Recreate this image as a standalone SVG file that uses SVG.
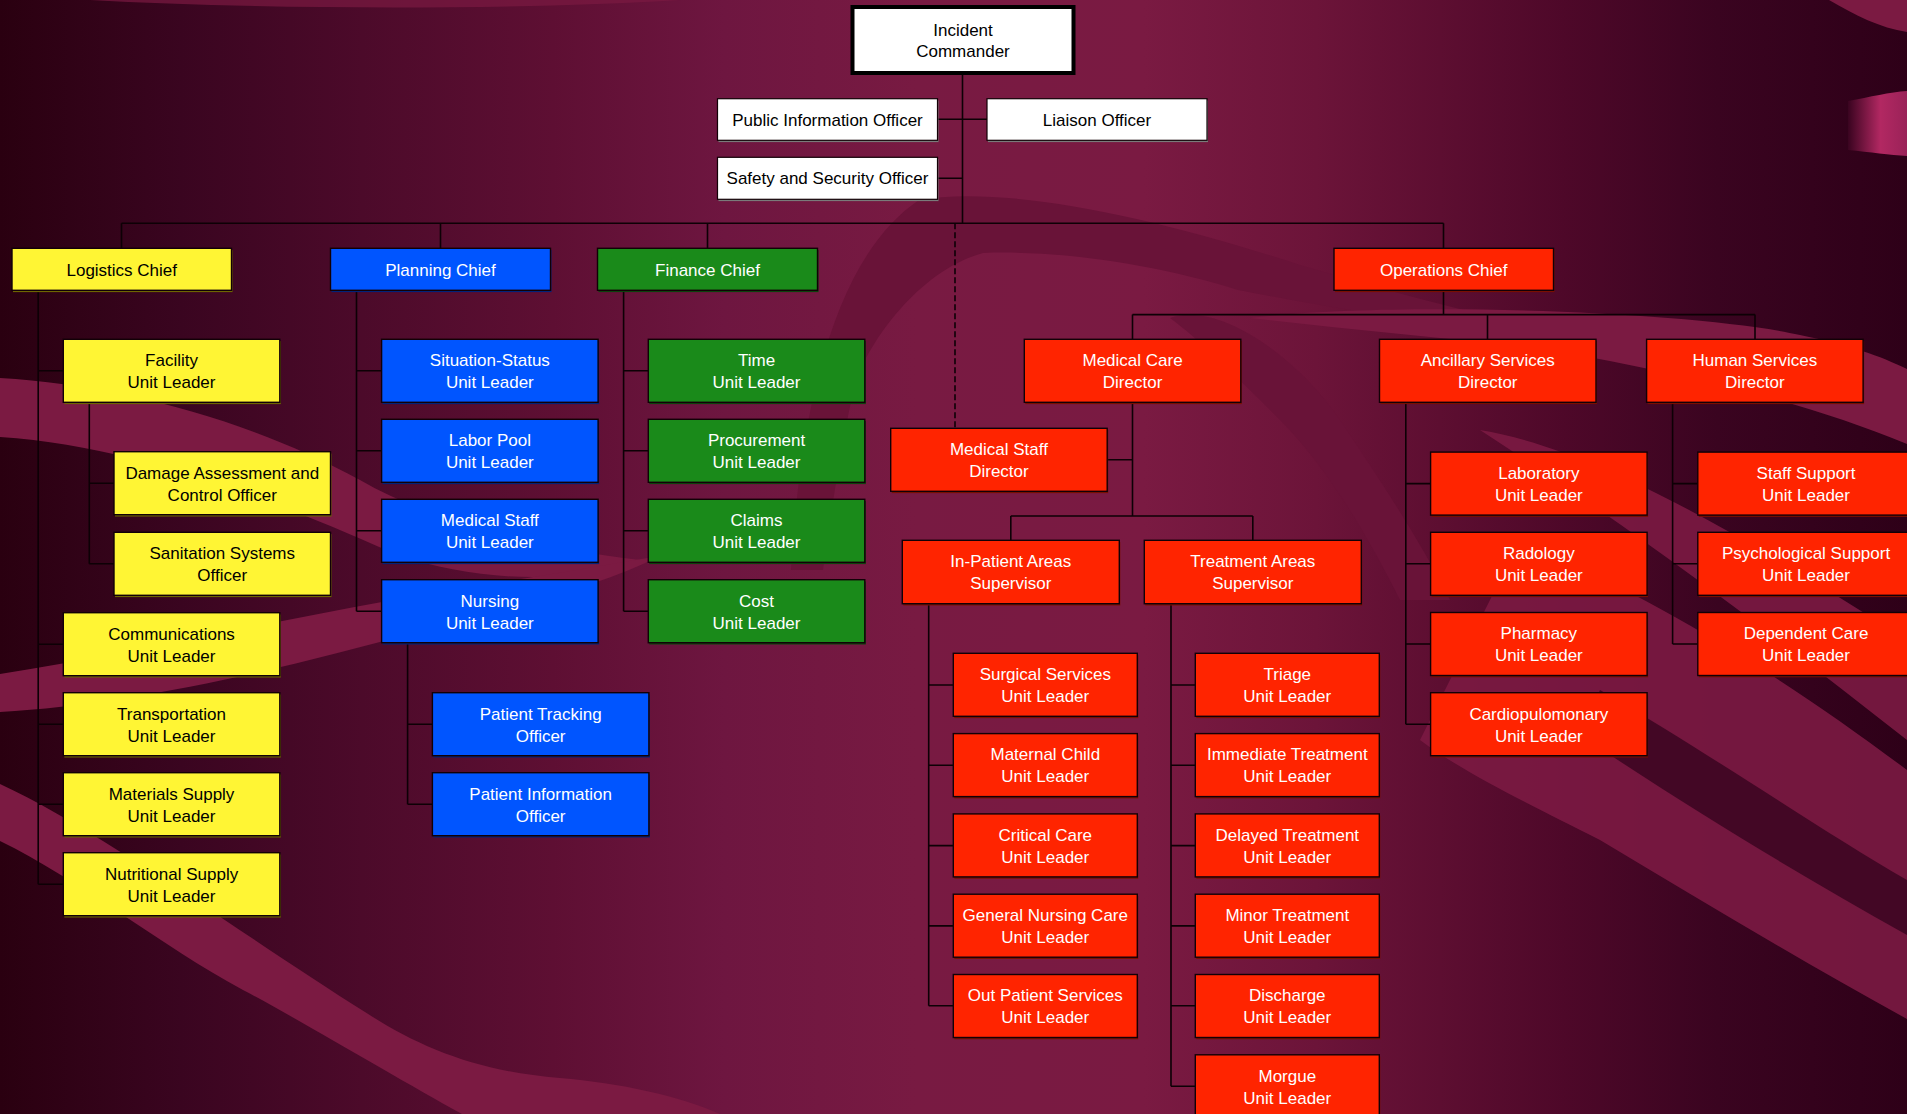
<svg xmlns="http://www.w3.org/2000/svg" width="1907" height="1114" viewBox="0 0 1907 1114">
<style>
.t{font-family:"Liberation Sans",Arial,sans-serif;font-size:17px;text-anchor:middle}
.dk{fill:#000}
.lt{fill:#fff}
.by{fill:#fff534;stroke:#120006;stroke-width:1.4}
.bb{fill:#0055ff;stroke:#120006;stroke-width:1.4}
.bg{fill:#1a8a1a;stroke:#120006;stroke-width:1.4}
.br{fill:#ff2400;stroke:#120006;stroke-width:1.4}
.bw{fill:#ffffff;stroke:#120006;stroke-width:1.2}
.sy{fill:#6e6600}
.sb{fill:#00237a}
.sg{fill:#0b420b}
.sr{fill:#7a0f00}
.sw{fill:#7a7a7a}
.c{fill:none;stroke:#0d0005;stroke-width:1.6}
.band{fill:#7b1a42}
.dband{fill:#691338}
</style>
<defs>
<linearGradient id="bgGrad" x1="0" y1="0" x2="1" y2="0">
<stop offset="0" stop-color="#2a0010"/>
<stop offset="0.095" stop-color="#3a0520"/>
<stop offset="0.19" stop-color="#4c0a2a"/>
<stop offset="0.29" stop-color="#5e0f33"/>
<stop offset="0.38" stop-color="#6e1640"/>
<stop offset="0.48" stop-color="#781a42"/>
<stop offset="0.6" stop-color="#7a1a42"/>
<stop offset="0.69" stop-color="#6c1439"/>
<stop offset="0.82" stop-color="#4e0829"/>
<stop offset="0.9" stop-color="#3a0420"/>
<stop offset="1" stop-color="#2e0018"/>
</linearGradient>
<linearGradient id="bannerGrad" x1="1848" y1="0" x2="1907" y2="0" gradientUnits="userSpaceOnUse">
<stop offset="0" stop-color="#3a0420"/>
<stop offset="0.55" stop-color="#b22862"/>
<stop offset="1" stop-color="#9a2258"/>
</linearGradient>
</defs>

<g id="background">
<rect x="0" y="0" width="1907" height="1114" fill="url(#bgGrad)"/>
<path class="band" d="M90,0 C250,9 500,11 680,0 Z" opacity="0.7"/>
<path class="band" d="M0,378 C120,385 250,420 360,480 C430,520 520,545 640,560 C560,588 470,578 400,556 C300,512 150,447 0,437 Z"/>
<path class="band" d="M0,674 C150,650 300,615 450,590 C530,578 600,566 660,556 C600,586 520,606 420,631 C280,670 130,705 0,712 Z"/>
<path class="band" d="M0,784 C100,830 250,940 365,1012 C420,1048 480,1072 560,1078 C620,1083 680,1096 720,1114 L462,1114 C400,1080 300,1020 243,990 C160,945 80,880 0,841 Z"/>
<path class="dband" d="M791,570 C800,420 830,260 919,200 C1000,185 1150,215 1300,265 C1450,310 1550,330 1620,345 C1500,335 1340,310 1238,290 C1150,262 1050,250 983,253 C920,270 870,340 855,383 C840,450 830,520 823,570 Z"/>
<path class="dband" d="M1170,318 C1220,300 1300,360 1340,420 C1380,480 1420,540 1450,600 L1400,600 C1360,520 1320,460 1280,420 C1240,380 1200,340 1170,318 Z"/>
<path class="band" d="M1829,0 C1855,15 1880,28 1907,32 L1907,0 Z"/>
<path d="M1848,101 C1870,97 1890,92 1907,91 L1907,156 C1890,155 1870,152 1848,150 Z" fill="url(#bannerGrad)"/>
<path class="band" d="M1250,318 C1400,300 1700,312 1800,335 C1850,345 1880,356 1907,369 L1907,444 C1800,400 1680,373 1550,350 C1450,338 1350,330 1250,318 Z"/>
<path class="band" d="M1480,430 C1600,450 1750,540 1907,640 L1907,740 C1780,640 1650,540 1480,430 Z" opacity="0.9"/>
<path class="band" d="M1520,540 C1680,610 1800,690 1907,770 L1907,1019 C1800,960 1700,900 1600,840 C1520,800 1460,770 1420,740 Z" opacity="0.9"/>
<path d="M1600,690 C1720,760 1820,830 1907,880 L1907,935 C1800,875 1700,815 1580,735 Z" fill="#3e0522" opacity="0.9"/>
</g>

<g id="connectors">
<path class="c" d="M962.5,73 V223.3 M937.5,119.3 H987 M937.5,178.3 H962.5"/>
<path class="c" d="M121.5,223.3 H1443.5 M121.5,223.3 V248.3 M440.5,223.3 V248.3 M707.5,223.3 V248.3 M1443.5,223.3 V248.3"/>
<path class="c" d="M955,223.3 V428.3" stroke-dasharray="6,3"/>
<path class="c" d="M38.2,290.3 V884.2 M38.2,370.8 H63.3 M38.2,644.2 H63.3 M38.2,724.2 H63.3 M38.2,804.2 H63.3 M38.2,884.2 H63.3"/>
<path class="c" d="M89.3,402.3 V563.8 M89.3,483.2 H114 M89.3,563.8 H114"/>
<path class="c" d="M356.5,290.3 V611.2 M356.5,370.8 H381.6 M356.5,450.8 H381.6 M356.5,530.8 H381.6 M356.5,611.2 H381.6"/>
<path class="c" d="M407.6,642.7 V804.2 M407.6,724.2 H432.4 M407.6,804.2 H432.4"/>
<path class="c" d="M623.6,290.3 V611.2 M623.6,370.8 H648.3 M623.6,450.8 H648.3 M623.6,530.8 H648.3 M623.6,611.2 H648.3"/>
<path class="c" d="M1443.5,290.3 V314.6 M1132.5,314.6 H1755 M1132.5,314.6 V339.3 M1487.5,314.6 V339.3 M1755,314.6 V339.3"/>
<path class="c" d="M1132.5,402.3 V516 M1107.3,459.8 H1132.5 M1010.8,516 H1252.8 M1010.8,516 V540.3 M1252.8,516 V540.3"/>
<path class="c" d="M928.7,603.7 V1005.8 M928.7,685 H953.3 M928.7,765.3 H953.3 M928.7,845.6 H953.3 M928.7,925.9 H953.3 M928.7,1005.8 H953.3"/>
<path class="c" d="M1171,603.7 V1086.3 M1171,685 H1195.3 M1171,765.3 H1195.3 M1171,845.6 H1195.3 M1171,925.9 H1195.3 M1171,1005.8 H1195.3 M1171,1086.3 H1195.3"/>
<path class="c" d="M1405.8,402.3 V724.2 M1405.8,483.6 H1430.6 M1405.8,563.8 H1430.6 M1405.8,644 H1430.6 M1405.8,724.2 H1430.6"/>
<path class="c" d="M1672.6,402.3 V644 M1672.6,483.6 H1697.8 M1672.6,563.8 H1697.8 M1672.6,644 H1697.8"/>
</g>

<g id="n-ic">
<rect x="852.5" y="7" width="221" height="66" fill="#fff" stroke="#000" stroke-width="4"/>
<text class="t dk" x="963" y="35.5">Incident</text>
<text class="t dk" x="963" y="56.5">Commander</text>
</g>
<g id="n-pio">
<rect class="sw" x="718.5" y="100.5" width="220" height="41.6"/>
<rect class="bw" x="717.5" y="98.7" width="220" height="41.6"/>
<text class="t dk" x="827.5" y="125.5">Public Information Officer</text>
</g>
<g id="n-liaison">
<rect class="sw" x="988" y="100.5" width="220" height="41.6"/>
<rect class="bw" x="987" y="98.7" width="220" height="41.6"/>
<text class="t dk" x="1097" y="125.5">Liaison Officer</text>
</g>
<g id="n-safety">
<rect class="sw" x="718.5" y="159.1" width="220" height="42"/>
<rect class="bw" x="717.5" y="157.3" width="220" height="42"/>
<text class="t dk" x="827.5" y="184.3">Safety and Security Officer</text>
</g>

<g id="n-logistics">
<rect class="sy" x="13" y="250.1" width="219.5" height="42"/>
<rect class="by" x="12" y="248.3" width="219.5" height="42"/>
<text class="t dk" x="121.75" y="275.5">Logistics Chief</text>
</g>
<g id="n-planning">
<rect class="sb" x="331.5" y="250.1" width="220" height="42"/>
<rect class="bb" x="330.5" y="248.3" width="220" height="42"/>
<text class="t lt" x="440.5" y="275.5">Planning Chief</text>
</g>
<g id="n-finance">
<rect class="sg" x="598.5" y="250.1" width="220" height="42"/>
<rect class="bg" x="597.5" y="248.3" width="220" height="42"/>
<text class="t lt" x="707.5" y="275.5">Finance Chief</text>
</g>
<g id="n-operations">
<rect class="sr" x="1335" y="250.1" width="219.5" height="42"/>
<rect class="br" x="1334" y="248.3" width="219.5" height="42"/>
<text class="t lt" x="1443.75" y="275.5">Operations Chief</text>
</g>

<g id="n-facility">
<rect class="sy" x="64.3" y="341.1" width="216.5" height="63"/>
<rect class="by" x="63.3" y="339.3" width="216.5" height="63"/>
<text class="t dk" x="171.55" y="366.1">Facility</text>
<text class="t dk" x="171.55" y="388.1">Unit Leader</text>
</g>
<g id="n-damage">
<rect class="sy" x="115" y="453.5" width="216.5" height="63"/>
<rect class="by" x="114" y="451.7" width="216.5" height="63"/>
<text class="t dk" x="222.25" y="478.5">Damage Assessment and</text>
<text class="t dk" x="222.25" y="500.5">Control Officer</text>
</g>
<g id="n-sanitation">
<rect class="sy" x="115" y="534.1" width="216.5" height="63"/>
<rect class="by" x="114" y="532.3" width="216.5" height="63"/>
<text class="t dk" x="222.25" y="559.1">Sanitation Systems</text>
<text class="t dk" x="222.25" y="581.1">Officer</text>
</g>
<g id="n-communications">
<rect class="sy" x="64.3" y="614.5" width="216.5" height="63"/>
<rect class="by" x="63.3" y="612.7" width="216.5" height="63"/>
<text class="t dk" x="171.55" y="639.5">Communications</text>
<text class="t dk" x="171.55" y="661.5">Unit Leader</text>
</g>
<g id="n-transportation">
<rect class="sy" x="64.3" y="694.5" width="216.5" height="63"/>
<rect class="by" x="63.3" y="692.7" width="216.5" height="63"/>
<text class="t dk" x="171.55" y="719.5">Transportation</text>
<text class="t dk" x="171.55" y="741.5">Unit Leader</text>
</g>
<g id="n-materials">
<rect class="sy" x="64.3" y="774.5" width="216.5" height="63"/>
<rect class="by" x="63.3" y="772.7" width="216.5" height="63"/>
<text class="t dk" x="171.55" y="799.5">Materials Supply</text>
<text class="t dk" x="171.55" y="821.5">Unit Leader</text>
</g>
<g id="n-nutritional">
<rect class="sy" x="64.3" y="854.5" width="216.5" height="63"/>
<rect class="by" x="63.3" y="852.7" width="216.5" height="63"/>
<text class="t dk" x="171.55" y="879.5">Nutritional Supply</text>
<text class="t dk" x="171.55" y="901.5">Unit Leader</text>
</g>

<g id="n-situation">
<rect class="sb" x="382.6" y="341.1" width="216.5" height="63"/>
<rect class="bb" x="381.6" y="339.3" width="216.5" height="63"/>
<text class="t lt" x="489.85" y="366.1">Situation-Status</text>
<text class="t lt" x="489.85" y="388.1">Unit Leader</text>
</g>
<g id="n-laborpool">
<rect class="sb" x="382.6" y="421.1" width="216.5" height="63"/>
<rect class="bb" x="381.6" y="419.3" width="216.5" height="63"/>
<text class="t lt" x="489.85" y="446.1">Labor Pool</text>
<text class="t lt" x="489.85" y="468.1">Unit Leader</text>
</g>
<g id="n-medstaff-ul">
<rect class="sb" x="382.6" y="501.1" width="216.5" height="63"/>
<rect class="bb" x="381.6" y="499.3" width="216.5" height="63"/>
<text class="t lt" x="489.85" y="526.1">Medical Staff</text>
<text class="t lt" x="489.85" y="548.1">Unit Leader</text>
</g>
<g id="n-nursing">
<rect class="sb" x="382.6" y="581.5" width="216.5" height="63"/>
<rect class="bb" x="381.6" y="579.7" width="216.5" height="63"/>
<text class="t lt" x="489.85" y="606.5">Nursing</text>
<text class="t lt" x="489.85" y="628.5">Unit Leader</text>
</g>
<g id="n-pt-tracking">
<rect class="sb" x="433.4" y="694.5" width="216.5" height="63"/>
<rect class="bb" x="432.4" y="692.7" width="216.5" height="63"/>
<text class="t lt" x="540.65" y="719.5">Patient Tracking</text>
<text class="t lt" x="540.65" y="741.5">Officer</text>
</g>
<g id="n-pt-info">
<rect class="sb" x="433.4" y="774.5" width="216.5" height="63"/>
<rect class="bb" x="432.4" y="772.7" width="216.5" height="63"/>
<text class="t lt" x="540.65" y="799.5">Patient Information</text>
<text class="t lt" x="540.65" y="821.5">Officer</text>
</g>

<g id="n-time">
<rect class="sg" x="649.3" y="341.1" width="216.5" height="63"/>
<rect class="bg" x="648.3" y="339.3" width="216.5" height="63"/>
<text class="t lt" x="756.55" y="366.1">Time</text>
<text class="t lt" x="756.55" y="388.1">Unit Leader</text>
</g>
<g id="n-procurement">
<rect class="sg" x="649.3" y="421.1" width="216.5" height="63"/>
<rect class="bg" x="648.3" y="419.3" width="216.5" height="63"/>
<text class="t lt" x="756.55" y="446.1">Procurement</text>
<text class="t lt" x="756.55" y="468.1">Unit Leader</text>
</g>
<g id="n-claims">
<rect class="sg" x="649.3" y="501.1" width="216.5" height="63"/>
<rect class="bg" x="648.3" y="499.3" width="216.5" height="63"/>
<text class="t lt" x="756.55" y="526.1">Claims</text>
<text class="t lt" x="756.55" y="548.1">Unit Leader</text>
</g>
<g id="n-cost">
<rect class="sg" x="649.3" y="581.5" width="216.5" height="63"/>
<rect class="bg" x="648.3" y="579.7" width="216.5" height="63"/>
<text class="t lt" x="756.55" y="606.5">Cost</text>
<text class="t lt" x="756.55" y="628.5">Unit Leader</text>
</g>

<g id="n-mcd">
<rect class="sr" x="1025.3" y="341.1" width="216.5" height="63"/>
<rect class="br" x="1024.3" y="339.3" width="216.5" height="63"/>
<text class="t lt" x="1132.55" y="366.1">Medical Care</text>
<text class="t lt" x="1132.55" y="388.1">Director</text>
</g>
<g id="n-ancillary">
<rect class="sr" x="1380.5" y="341.1" width="216.5" height="63"/>
<rect class="br" x="1379.5" y="339.3" width="216.5" height="63"/>
<text class="t lt" x="1487.75" y="366.1">Ancillary Services</text>
<text class="t lt" x="1487.75" y="388.1">Director</text>
</g>
<g id="n-human">
<rect class="sr" x="1647.6" y="341.1" width="216.5" height="63"/>
<rect class="br" x="1646.6" y="339.3" width="216.5" height="63"/>
<text class="t lt" x="1754.85" y="366.1">Human Services</text>
<text class="t lt" x="1754.85" y="388.1">Director</text>
</g>
<g id="n-msd">
<rect class="sr" x="891.7" y="430.1" width="216.5" height="63"/>
<rect class="br" x="890.7" y="428.3" width="216.5" height="63"/>
<text class="t lt" x="998.95" y="455.1">Medical Staff</text>
<text class="t lt" x="998.95" y="477.1">Director</text>
</g>
<g id="n-inpatient">
<rect class="sr" x="903.3" y="542.1" width="217" height="63.4"/>
<rect class="br" x="902.3" y="540.3" width="217" height="63.4"/>
<text class="t lt" x="1010.8" y="567.3">In-Patient Areas</text>
<text class="t lt" x="1010.8" y="589.3">Supervisor</text>
</g>
<g id="n-treatment">
<rect class="sr" x="1145.3" y="542.1" width="217" height="63.4"/>
<rect class="br" x="1144.3" y="540.3" width="217" height="63.4"/>
<text class="t lt" x="1252.8" y="567.3">Treatment Areas</text>
<text class="t lt" x="1252.8" y="589.3">Supervisor</text>
</g>

<g id="n-surgical">
<rect class="sr" x="954.3" y="655.1" width="184" height="63"/>
<rect class="br" x="953.3" y="653.3" width="184" height="63"/>
<text class="t lt" x="1045.3" y="680.1">Surgical Services</text>
<text class="t lt" x="1045.3" y="702.1">Unit Leader</text>
</g>
<g id="n-maternal">
<rect class="sr" x="954.3" y="735.4" width="184" height="63"/>
<rect class="br" x="953.3" y="733.6" width="184" height="63"/>
<text class="t lt" x="1045.3" y="760.4">Maternal Child</text>
<text class="t lt" x="1045.3" y="782.4">Unit Leader</text>
</g>
<g id="n-critical">
<rect class="sr" x="954.3" y="815.7" width="184" height="63"/>
<rect class="br" x="953.3" y="813.9" width="184" height="63"/>
<text class="t lt" x="1045.3" y="840.7">Critical Care</text>
<text class="t lt" x="1045.3" y="862.7">Unit Leader</text>
</g>
<g id="n-gennursing">
<rect class="sr" x="954.3" y="896" width="184" height="63"/>
<rect class="br" x="953.3" y="894.2" width="184" height="63"/>
<text class="t lt" x="1045.3" y="921">General Nursing Care</text>
<text class="t lt" x="1045.3" y="943">Unit Leader</text>
</g>
<g id="n-outpatient">
<rect class="sr" x="954.3" y="976.3" width="184" height="63"/>
<rect class="br" x="953.3" y="974.5" width="184" height="63"/>
<text class="t lt" x="1045.3" y="1001.3">Out Patient Services</text>
<text class="t lt" x="1045.3" y="1023.3">Unit Leader</text>
</g>

<g id="n-triage">
<rect class="sr" x="1196.3" y="655.1" width="184" height="63"/>
<rect class="br" x="1195.3" y="653.3" width="184" height="63"/>
<text class="t lt" x="1287.3" y="680.1">Triage</text>
<text class="t lt" x="1287.3" y="702.1">Unit Leader</text>
</g>
<g id="n-immediate">
<rect class="sr" x="1196.3" y="735.4" width="184" height="63"/>
<rect class="br" x="1195.3" y="733.6" width="184" height="63"/>
<text class="t lt" x="1287.3" y="760.4">Immediate Treatment</text>
<text class="t lt" x="1287.3" y="782.4">Unit Leader</text>
</g>
<g id="n-delayed">
<rect class="sr" x="1196.3" y="815.7" width="184" height="63"/>
<rect class="br" x="1195.3" y="813.9" width="184" height="63"/>
<text class="t lt" x="1287.3" y="840.7">Delayed Treatment</text>
<text class="t lt" x="1287.3" y="862.7">Unit Leader</text>
</g>
<g id="n-minor">
<rect class="sr" x="1196.3" y="896" width="184" height="63"/>
<rect class="br" x="1195.3" y="894.2" width="184" height="63"/>
<text class="t lt" x="1287.3" y="921">Minor Treatment</text>
<text class="t lt" x="1287.3" y="943">Unit Leader</text>
</g>
<g id="n-discharge">
<rect class="sr" x="1196.3" y="976.3" width="184" height="63"/>
<rect class="br" x="1195.3" y="974.5" width="184" height="63"/>
<text class="t lt" x="1287.3" y="1001.3">Discharge</text>
<text class="t lt" x="1287.3" y="1023.3">Unit Leader</text>
</g>
<g id="n-morgue">
<rect class="sr" x="1196.3" y="1056.6" width="184" height="63"/>
<rect class="br" x="1195.3" y="1054.8" width="184" height="63"/>
<text class="t lt" x="1287.3" y="1081.6">Morgue</text>
<text class="t lt" x="1287.3" y="1103.6">Unit Leader</text>
</g>

<g id="n-lab">
<rect class="sr" x="1431.6" y="453.9" width="216.5" height="63"/>
<rect class="br" x="1430.6" y="452.1" width="216.5" height="63"/>
<text class="t lt" x="1538.85" y="478.9">Laboratory</text>
<text class="t lt" x="1538.85" y="500.9">Unit Leader</text>
</g>
<g id="n-radiology">
<rect class="sr" x="1431.6" y="534.1" width="216.5" height="63"/>
<rect class="br" x="1430.6" y="532.3" width="216.5" height="63"/>
<text class="t lt" x="1538.85" y="559.1">Radology</text>
<text class="t lt" x="1538.85" y="581.1">Unit Leader</text>
</g>
<g id="n-pharmacy">
<rect class="sr" x="1431.6" y="614.3" width="216.5" height="63"/>
<rect class="br" x="1430.6" y="612.5" width="216.5" height="63"/>
<text class="t lt" x="1538.85" y="639.3">Pharmacy</text>
<text class="t lt" x="1538.85" y="661.3">Unit Leader</text>
</g>
<g id="n-cardio">
<rect class="sr" x="1431.6" y="694.5" width="216.5" height="63"/>
<rect class="br" x="1430.6" y="692.7" width="216.5" height="63"/>
<text class="t lt" x="1538.85" y="719.5">Cardiopulomonary</text>
<text class="t lt" x="1538.85" y="741.5">Unit Leader</text>
</g>

<g id="n-staffsupport">
<rect class="sr" x="1698.8" y="453.9" width="216.5" height="63"/>
<rect class="br" x="1697.8" y="452.1" width="216.5" height="63"/>
<text class="t lt" x="1806.05" y="478.9">Staff Support</text>
<text class="t lt" x="1806.05" y="500.9">Unit Leader</text>
</g>
<g id="n-psych">
<rect class="sr" x="1698.8" y="534.1" width="216.5" height="63"/>
<rect class="br" x="1697.8" y="532.3" width="216.5" height="63"/>
<text class="t lt" x="1806.05" y="559.1">Psychological Support</text>
<text class="t lt" x="1806.05" y="581.1">Unit Leader</text>
</g>
<g id="n-dependent">
<rect class="sr" x="1698.8" y="614.3" width="216.5" height="63"/>
<rect class="br" x="1697.8" y="612.5" width="216.5" height="63"/>
<text class="t lt" x="1806.05" y="639.3">Dependent Care</text>
<text class="t lt" x="1806.05" y="661.3">Unit Leader</text>
</g>
</svg>
